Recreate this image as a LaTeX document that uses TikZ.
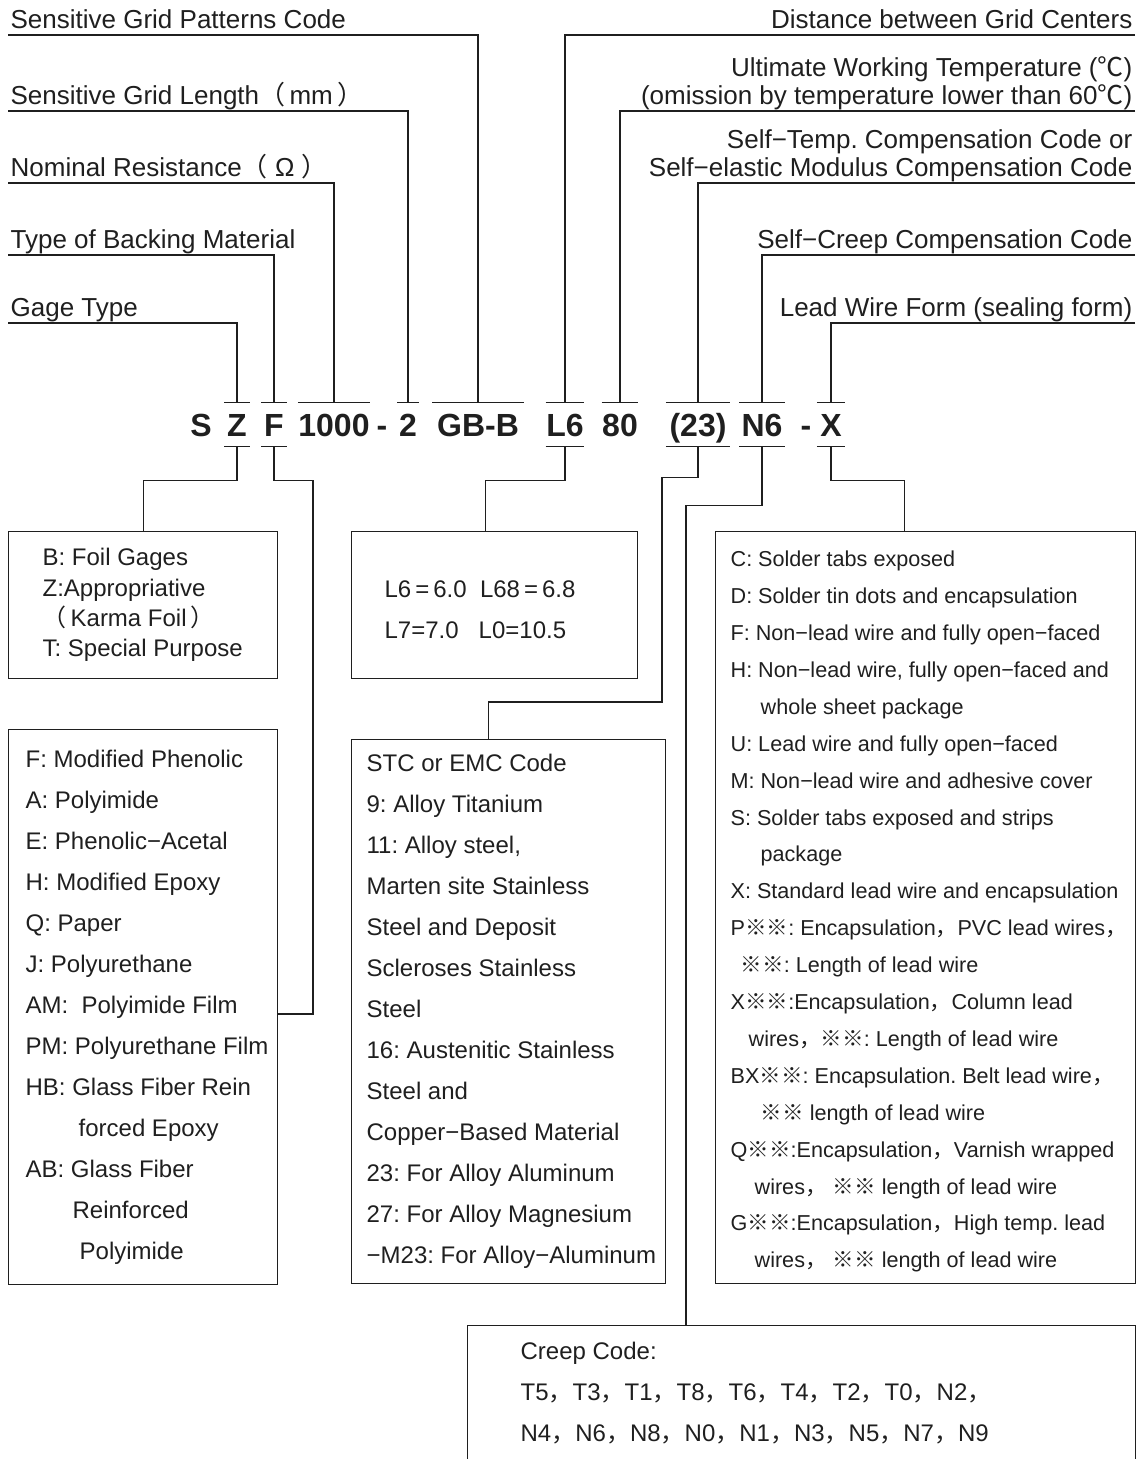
\documentclass[tikz,border=0pt]{standalone}
\usepackage{fontspec}
\setmainfont{Liberation Sans}
\newfontfamily\cjk{Noto Sans CJK SC}
\usetikzlibrary{positioning}
\frenchspacing
\colorlet{myink}{black!88}
\def\codey{424.5}
\newcommand\cc{{\cjk ，}}
\newcommand\km{{\cjk ※}}
\newcommand\lp{{\cjk （}}
\newcommand\rp{{\cjk ）}}
\newcommand\dg{{\cjk ℃}}

\begin{document}
\begin{tikzpicture}[
    x=1pt, y=-1pt, line width=1.3pt, myink,
    lab/.style={font=\fontsize{26}{28}\selectfont, inner xsep=2pt, inner ysep=0pt, text depth=5.5pt},
    lab left/.style ={lab, anchor=south west},
    lab right/.style={lab, anchor=south east, align=right},
    code/.style={font=\fontsize{32}{32}\selectfont\bfseries, inner sep=0pt,
                 text height=23pt, text depth=0pt, minimum height=43pt},
    box/.style={draw, rectangle, inner sep=0pt, anchor=north west},
    boxtext/.style={anchor=west, align=left, inner sep=2pt, font=\fontsize{24}{41}\selectfont},
  ]
  \useasboundingbox (0,0) rectangle (1140,1459);

  % ------------------------------------------------------------------ the code itself
  \foreach \n/\x/\w/\t in {S/201/0/S, Z/237/24/Z, F/274/24/F, 1000/334/70/1000,
      Da/382/0/-, 2/408/20/2, GB/478/90/GB-B, L6/565/37/L6, 80/620/35/80,
      23/698/63/(23), N6/762/44/N6, Db/806/0/-, X/831/27/X}
    \node[code, minimum width=\w pt] (c\n) at (\x,\codey) {\t};
  % bars over and under each field
  \foreach \n in {Z,F,1000,2,GB,L6,80,23,N6,X}
    \draw (c\n.north west) -- (c\n.north east);
  \foreach \n in {Z,F,L6,23,N6,X}
    \draw (c\n.south west) -- (c\n.south east);

  % ------------------------------------------------------------------ labels, left
  \node[lab left] (lPat)  at (8,35)  {Sensitive Grid Patterns Code};
  \node[lab left] (lLen)  at (8,111) {Sensitive Grid Length\lp\,mm\,\rp};
  \node[lab left] (lRes)  at (8,183) {Nominal Resistance\lp\ Ω\ \rp};
  \node[lab left] (lBack) at (8,255) {Type of Backing Material};
  \node[lab left] (lGage) at (8,323) {Gage Type};

  \draw (lPat.south west)  -| (cGB.north);
  \draw (lLen.south west)  -| (c2.north);
  \draw (lRes.south west)  -| (c1000.north);
  \draw (lBack.south west) -| (cF.north);
  \draw (lGage.south west) -| (cZ.north);

  % ------------------------------------------------------------------ labels, right
  \node[lab right] (rDist)  at (1135,35)  {Distance between Grid Centers};
  \node[lab right] (rTemp)  at (1135,111) {Ultimate Working Temperature (\dg)\\
                                           (omission by temperature lower than 60\dg)};
  \node[lab right] (rComp)  at (1135,183) {Self−Temp. Compensation Code or\\
                                           Self−elastic Modulus Compensation Code};
  \node[lab right] (rCreep) at (1135,255) {Self−Creep Compensation Code};
  \node[lab right] (rWire)  at (1135,323) {Lead Wire Form (sealing form)};

  \draw (rDist.south east)  -| (cL6.north);
  \draw (rTemp.south east)  -| (c80.north);
  \draw (rComp.south east)  -| (c23.north);
  \draw (rCreep.south east) -| (cN6.north);
  \draw (rWire.south east)  -| (cX.north);

  % ------------------------------------------------------------------ boxes
  \node[box, minimum width=269pt, minimum height=147pt] (bGage)  at (8,531)   {};
  \node[box, minimum width=286pt, minimum height=147pt] (bLen)   at (351,531) {};
  \node[box, minimum width=420pt, minimum height=752pt] (bLead)  at (715,531) {};
  \node[box, minimum width=269pt, minimum height=555pt] (bBack)  at (8,729)   {};
  \node[box, minimum width=314pt, minimum height=544pt] (bSTC)   at (351,739) {};
  % runs off the bottom edge, as in the sheet
  \node[box, minimum width=668pt, minimum height=160pt] (bCreep) at (467,1325) {};

  \node[boxtext, font=\fontsize{24}{30.3}\selectfont] (tGage) at ([xshift=32pt]bGage.west)
    {B: Foil Gages\\
     Z:Appropriative\\
     \lp\,Karma Foil\,\rp\\
     T: Special Purpose};

  \node[boxtext] (tLen) at ([shift={(31,5)}]bLen.west)
    {L6\,=\,6.0\ \ L68\,=\,6.8\\
     L7=7.0\ \ \ L0=10.5};

  \node[boxtext] (tBack) at ([xshift=15pt]bBack.west)
    {F: Modified Phenolic\\
     A: Polyimide\\
     E: Phenolic−Acetal\\
     H: Modified Epoxy\\
     Q: Paper\\
     J: Polyurethane\\
     AM:\ \ Polyimide Film\\
     PM: Polyurethane Film\\
     HB: Glass Fiber Rein\\
     \hspace*{53pt}forced Epoxy\\
     AB: Glass Fiber\\
     \hspace*{47pt}Reinforced\\
     \hspace*{54pt}Polyimide};

  \node[boxtext] (tSTC) at ([xshift=13pt]bSTC.west)
    {STC or EMC Code\\
     9: Alloy Titanium\\
     11: Alloy steel,\\
     Marten site Stainless\\
     Steel and Deposit\\
     Scleroses Stainless\\
     Steel\\
     16: Austenitic Stainless\\
     Steel and\\
     Copper−Based Material\\
     23: For Alloy Aluminum\\
     27: For Alloy Magnesium\\
     −M23: For Alloy−Aluminum};

  \node[boxtext, font=\fontsize{21.6}{36.9}\selectfont] (tLead) at ([shift={(13,4)}]bLead.west)
    {C: Solder tabs exposed\\
     D: Solder tin dots and encapsulation\\
     F: Non−lead wire and fully open−faced\\
     H: Non−lead wire, fully open−faced and\\
     \hspace*{30pt}whole sheet package\\
     U: Lead wire and fully open−faced\\
     M: Non−lead wire and adhesive cover\\
     S: Solder tabs exposed and strips\\
     \hspace*{30pt}package\\
     X: Standard lead wire and encapsulation\\
     P\km\km: Encapsulation\cc PVC lead wires\cc\\
     \hspace*{10pt}\km\km: Length of lead wire\\
     X\km\km:Encapsulation\cc Column lead\\
     \hspace*{18pt}wires\cc\km\km: Length of lead wire\\
     BX\km\km: Encapsulation. Belt lead wire\cc\\
     \hspace*{30pt}\km\km{} length of lead wire\\
     Q\km\km:Encapsulation\cc Varnish wrapped\\
     \hspace*{24pt}wires\cc\ \km\km{} length of lead wire\\
     G\km\km:Encapsulation\cc High temp. lead\\
     \hspace*{24pt}wires\cc\ \km\km{} length of lead wire};

  \node[boxtext] (tCreep) at ([shift={(51,68)}]bCreep.north west)
    {Creep Code:\\
     T5\cc T3\cc T1\cc T8\cc T6\cc T4\cc T2\cc T0\cc N2\cc\\
     N4\cc N6\cc N8\cc N0\cc N1\cc N3\cc N5\cc N7\cc N9};

  % ------------------------------------------------------------------ leads down to the boxes
  \coordinate (jF)  at (313,1014);
  \coordinate (j23) at (662,702);
  \draw (cZ.south)  -- ++(0,34) -| (bGage.north);
  \draw (cF.south)  -- ++(0,34) -| (jF) -- (jF -| bBack.east);
  \draw (cL6.south) -- ++(0,34) -| ([xshift=-9pt]bLen.north);
  \draw (c23.south) -- ++(0,31) -| (j23) -| ([xshift=-20pt]bSTC.north);
  \draw (cN6.south) -- ++(0,59) -| ([xshift=219pt]bCreep.north west);
  \draw (cX.south)  -- ++(0,34) -| ([xshift=-21pt]bLead.north);

\end{tikzpicture}
\end{document}
